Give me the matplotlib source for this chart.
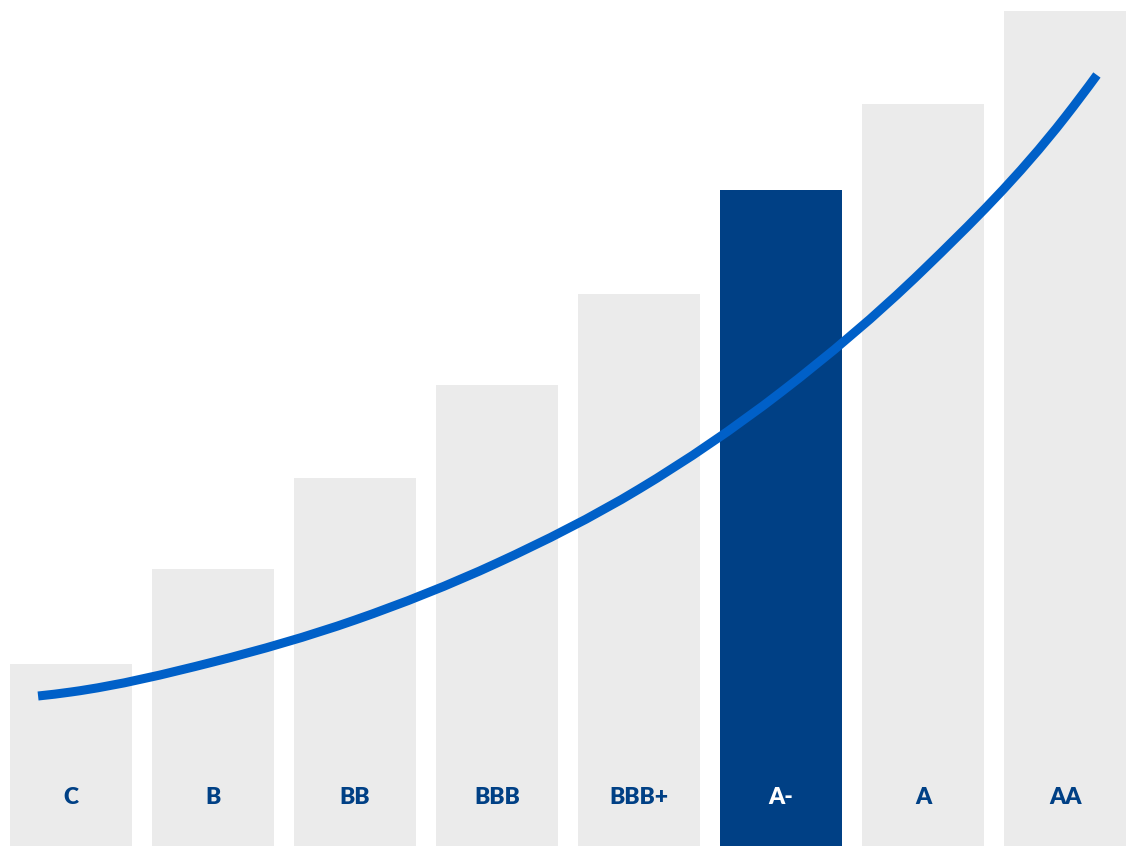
#!/usr/bin/env python
# python3
"""
    Rating ladder: bars per rating grade with a rising curve on top
"""
import matplotlib
matplotlib.use("Agg")
import matplotlib.pyplot as plt
from matplotlib.path import Path
from matplotlib.patches import PathPatch

grades = ['C', 'B', 'BB', 'BBB', 'BBB+', 'A-', 'A', 'AA']
heights = [182, 277, 368, 461, 552, 656, 742, 835]
highlight = 'A-'

# curve, x in bar-index units
curve_x = [-0.232, 0.0, 1.0, 2.0, 3.0, 4.0, 5.0, 6.0, 7.0, 7.223]
curve_y = [150, 154, 184, 226, 283, 357, 454, 576, 729, 771]

gray = '#EBEBEB'
navy = '#004085'
blue = '#0060C8'

fig = plt.figure(figsize=(11.31, 8.46), dpi=100)
ax = fig.add_axes([0, 0, 1, 1])

pos = list(range(len(grades)))
colors = [navy if g == highlight else gray for g in grades]
ax.bar(pos, heights, width=0.859, color=colors, zorder=1)

# smooth the curve with cubic bezier segments (hermite slopes)
n = len(curve_x)
h = [curve_x[i + 1] - curve_x[i] for i in range(n - 1)]
d = [(curve_y[i + 1] - curve_y[i]) / h[i] for i in range(n - 1)]
slopes = [0.0] * n
for i in range(1, n - 1):
    slopes[i] = (h[i] * d[i - 1] + h[i - 1] * d[i]) / (h[i - 1] + h[i])
slopes[0] = 2 * d[0] - slopes[1]
slopes[-1] = 2 * d[-1] - slopes[-2]
verts = [(curve_x[0], curve_y[0])]
codes = [Path.MOVETO]
for i in range(n - 1):
    dx = h[i]
    verts += [(curve_x[i] + dx / 3, curve_y[i] + slopes[i] * dx / 3),
              (curve_x[i + 1] - dx / 3, curve_y[i + 1] - slopes[i + 1] * dx / 3),
              (curve_x[i + 1], curve_y[i + 1])]
    codes += [Path.CURVE4] * 3
ax.add_patch(PathPatch(Path(verts, codes), fill=False, edgecolor=blue,
                       lw=6.5, capstyle='butt', joinstyle='round', zorder=2))

for i, g in enumerate(grades):
    ax.text(i, 49, g, ha='center', va='center', fontsize=16.5,
            fontweight='heavy', family=['Lato', 'DejaVu Sans'],
            color='white' if g == highlight else navy, zorder=3)

ax.set_xlim(-0.5, 7.463)
ax.set_ylim(0, 846)
ax.axis('off')

fig.savefig('out.png', dpi=100)
